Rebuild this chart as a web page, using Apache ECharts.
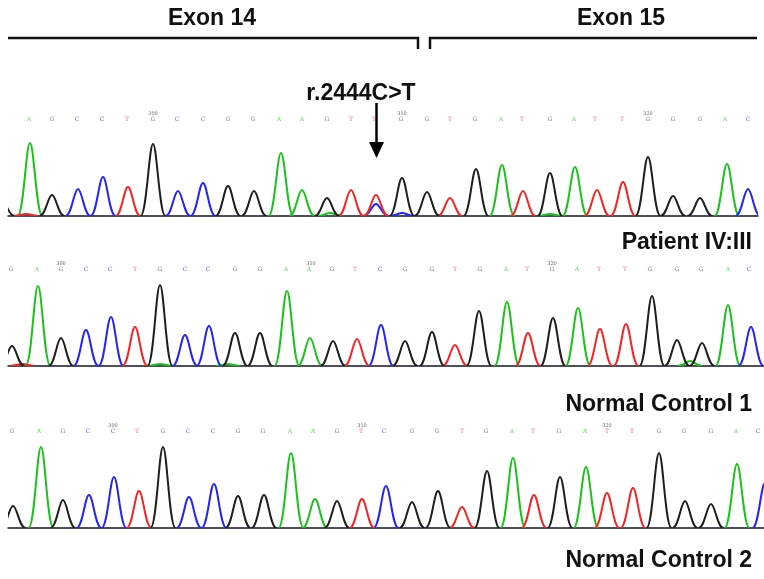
<!DOCTYPE html>
<html><head><meta charset="utf-8">
<script src="https://cdn.jsdelivr.net/npm/echarts@6/dist/echarts.min.js"></script>
<style>html,body{margin:0;padding:0;background:#fff}#c{width:764px;height:579px}</style>
</head><body><div id="c"></div>
<script>
// ---- data (trace position, peak height, base) ----
const panelTitles = ['Patient IV:III', 'Normal Control 1', 'Normal Control 2'];
const exonLabels = ['Exon 14', 'Exon 15'];
const variantLabel = 'r.2444C>T';

const p1Peaks = [[2,16,'G'],[30,73,'A'],[52,21,'G'],[78,27,'C'],[103,39,'C'],[128,29,'T'],[153,72,'G'],[178,25,'C'],[203,33,'C'],[228,30,'G'],[254,25,'G'],[281,63,'A'],[302,26,'A'],[327,18,'G'],[351,26,'T'],[376,21,'T'],[376,12,'C'],[402,38,'G'],[427,24,'G'],[450,18,'T'],[476,47,'G'],[502,51,'A'],[523,25,'T'],[550,43,'G'],[575,49,'A'],[597,26,'T'],[623,34,'T'],[648,59,'G'],[673,20,'G'],[700,18,'G'],[727,52,'A'],[748,27,'C'],
  [26,2,'T'],[330,3,'A'],[402,3,'C'],[550,2,'A']];
const p2Peaks = [[12,20,'G'],[38,80,'A'],[61,28,'G'],[86,36,'C'],[111,49,'C'],[135,39,'T'],[160,81,'G'],[185,31,'C'],[209,40,'C'],[235,33,'G'],[260,33,'G'],[287,75,'A'],[310,28,'A'],[333,25,'G'],[357,27,'T'],[381,41,'C'],[405,25,'G'],[432,34,'G'],[455,21,'T'],[479,55,'G'],[507,64,'A'],[528,33,'T'],[553,48,'G'],[578,58,'A'],[600,37,'T'],[626,42,'T'],[652,70,'G'],[677,26,'G'],[702,23,'G'],[728,61,'A'],[751,39,'C'],
  [690,5,'A'],[22,2,'T'],[228,2,'A'],[160,2,'A']];
const p3Peaks = [[13,22,'G'],[41,81,'A'],[63,28,'G'],[89,33,'C'],[114,51,'C'],[139,37,'T'],[163,81,'G'],[189,31,'C'],[214,44,'C'],[238,32,'G'],[264,33,'G'],[291,75,'A'],[315,29,'A'],[337,27,'G'],[362,29,'T'],[386,42,'C'],[412,26,'G'],[438,37,'G'],[462,21,'T'],[487,57,'G'],[513,70,'A'],[534,33,'T'],[560,51,'G'],[586,61,'A'],[607,35,'T'],[633,40,'T'],[659,75,'G'],[685,27,'G'],[711,24,'G'],[737,64,'A'],[765,45,'C']];

const p1Calls = [[29,'A'],[52,'G'],[77,'C'],[102,'C'],[127,'T'],[153,'G'],[177,'C'],[203,'C'],[228,'G'],[253,'G'],[279,'A'],[302,'A'],[327,'G'],[351,'T'],[374,'T'],[401,'G'],[427,'G'],[450,'T'],[475,'G'],[501,'A'],[522,'T'],[550,'G'],[574,'A'],[595,'T'],[622,'T'],[648,'G'],[673,'G'],[700,'G'],[725,'A'],[748,'C']];
const p2Calls = [[11,'G'],[37,'A'],[61,'G'],[86,'C'],[110,'C'],[135,'T'],[160,'G'],[185,'C'],[208,'C'],[235,'G'],[260,'G'],[286,'A'],[309,'A'],[332,'G'],[355,'T'],[380,'C'],[405,'G'],[432,'G'],[455,'T'],[480,'G'],[506,'A'],[527,'T'],[552,'G'],[577,'A'],[599,'T'],[625,'T'],[650,'G'],[677,'G'],[701,'G'],[728,'A'],[749,'C']];
const p3Calls = [[12,'G'],[39,'A'],[63,'G'],[88,'C'],[113,'C'],[137,'T'],[163,'G'],[188,'C'],[213,'C'],[238,'G'],[263,'G'],[290,'A'],[313,'A'],[337,'G'],[361,'T'],[384,'C'],[412,'G'],[437,'G'],[462,'T'],[486,'G'],[512,'A'],[533,'T'],[559,'G'],[585,'A'],[607,'T'],[632,'T'],[659,'G'],[684,'G'],[711,'G'],[736,'A'],[758,'C']];

const p1Numbers = [[153,'300'],[402,'310'],[648,'320']];
const p2Numbers = [[61,'300'],[311,'310'],[552,'320']];
const p3Numbers = [[113,'300'],[362,'310'],[607,'320']];

// ---- rendering ----
const baseColors = {A:'#1cc21c', C:'#2424f5', G:'#1e1e1e', T:'#f42424'};
const HALF_W = 12.5;
const panels = [
  {peaks:p1Peaks, calls:p1Calls, nums:p1Numbers, grid:{left:8, top:116, width:750, height:100}, xmax:758},
  {peaks:p2Peaks, calls:p2Calls, nums:p2Numbers, grid:{left:8, top:266, width:756, height:100}, xmax:764},
  {peaks:p3Peaks, calls:p3Calls, nums:p3Numbers, grid:{left:8, top:428, width:756, height:100}, xmax:764}
];

function peakRenderer(color){
  return function(params, api){
    const c = api.value(0), h = api.value(1);
    const a = api.coord([c - HALF_W, 0]);
    const t = api.coord([c, h]);
    const b = api.coord([c + HALF_W, 0]);
    const cs = params.coordSys;
    const k1 = 0.5 * (t[0] - a[0]), k2 = 0.32 * (t[0] - a[0]);
    const style = {stroke: color, lineWidth: 2, fill: null};
    return {
      type: 'group',
      clipPath: {type:'rect', shape:{x: cs.x, y: cs.y - 20, width: cs.width, height: cs.height + 20}},
      children: [
        {type:'bezierCurve', shape:{x1:a[0], y1:a[1], cpx1:a[0]+k1, cpy1:a[1], cpx2:t[0]-k2, cpy2:t[1], x2:t[0], y2:t[1]}, style: style},
        {type:'bezierCurve', shape:{x1:t[0], y1:t[1], cpx1:t[0]+k2, cpy1:t[1], cpx2:b[0]-k1, cpy2:b[1], x2:b[0], y2:b[1]}, style: style}
      ]
    };
  };
}

const grids = [], xAxes = [], yAxes = [], series = [];
panels.forEach((p, i) => {
  grids.push(p.grid);
  xAxes.push({gridIndex:i, type:'value', min:8, max:p.xmax, axisLine:{show:true, onZero:true, lineStyle:{color:'#15152a', width:1.5}}, axisTick:{show:false}, axisLabel:{show:false}, splitLine:{show:false}});
  yAxes.push({gridIndex:i, type:'value', min:0, max:100, show:false, splitLine:{show:false}});
  ['A','C','G','T'].forEach(base => {
    const d = p.peaks.filter(q => q[2] === base).map(q => [q[0], q[1]]);
    series.push({type:'custom', xAxisIndex:i, yAxisIndex:i, data:d, renderItem: peakRenderer(baseColors[base]), silent:true, z: base==='G'?3:2});
  });
  const calls = p.calls;
  series.push({type:'custom', xAxisIndex:i, yAxisIndex:i, data: calls.map(q => [q[0], 97]), silent:true,
    renderItem: function(params, api){
      const pt = api.coord([api.value(0), api.value(1)]);
      const letter = calls[params.dataIndex][1];
      return {type:'text', x:pt[0], y:pt[1], style:{text:letter, fill:baseColors[letter]==='#1e1e1e'?'#555':baseColors[letter], fontSize:6, fontFamily:'DejaVu Serif', align:'center', verticalAlign:'middle', opacity:0.75}};
    }});
  const nums = p.nums;
  series.push({type:'custom', xAxisIndex:i, yAxisIndex:i, data: nums.map(q => [q[0], 102]), silent:true,
    renderItem: function(params, api){
      const pt = api.coord([api.value(0), api.value(1)]);
      return {type:'text', x:pt[0], y:pt[1], style:{text:nums[params.dataIndex][1], fill:'#666', fontSize:5, fontFamily:'DejaVu Serif', align:'center', verticalAlign:'middle'}};
    }});
});

const titleFont = {fontFamily:'Liberation Sans', fontWeight:'bold', fontSize:23, fill:'#111'};
const lineStyle = {stroke:'#111', lineWidth:2.5};
const graphic = [
  {type:'text', x:212, y:19, style:Object.assign({text:exonLabels[0], align:'center', verticalAlign:'middle'}, titleFont)},
  {type:'text', x:621, y:19, style:Object.assign({text:exonLabels[1], align:'center', verticalAlign:'middle'}, titleFont)},
  {type:'polyline', shape:{points:[[8,38],[418,38],[418,49]]}, style:lineStyle},
  {type:'polyline', shape:{points:[[757,38],[430,38],[430,49]]}, style:lineStyle},
  {type:'text', x:361, y:94, style:Object.assign({text:variantLabel, align:'center', verticalAlign:'middle'}, titleFont)},
  {type:'line', shape:{x1:376.5, y1:103, x2:376.5, y2:145}, style:{stroke:'#000', lineWidth:2.5}},
  {type:'polygon', shape:{points:[[369,142],[384,142],[376.5,158]]}, style:{fill:'#000'}},
  {type:'text', x:752, y:243, style:Object.assign({text:panelTitles[0], align:'right', verticalAlign:'middle'}, titleFont)},
  {type:'text', x:752, y:405, style:Object.assign({text:panelTitles[1], align:'right', verticalAlign:'middle'}, titleFont)},
  {type:'text', x:752, y:561, style:Object.assign({text:panelTitles[2], align:'right', verticalAlign:'middle'}, titleFont)}
];

const chart = echarts.init(document.getElementById('c'), null, {renderer:'canvas'});
chart.setOption({animation:false, backgroundColor:'#fff', grid:grids, xAxis:xAxes, yAxis:yAxes, series:series, graphic:graphic});
</script></body></html>
